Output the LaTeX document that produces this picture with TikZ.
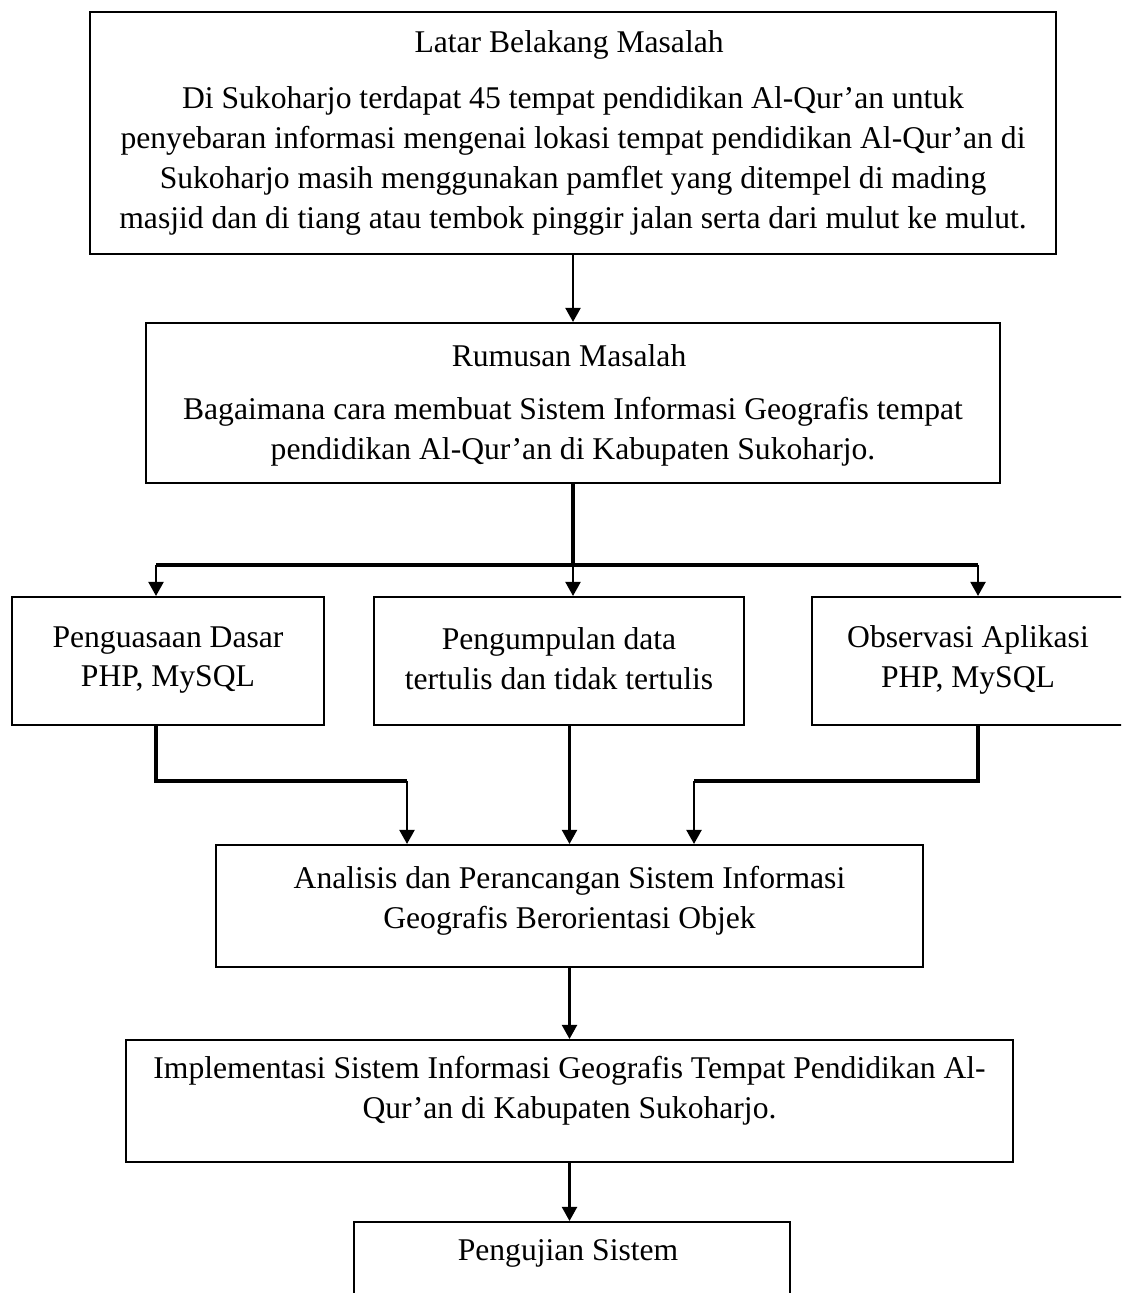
\documentclass[tikz,border=0pt]{standalone}
\usepackage{fontspec}
\setmainfont{Liberation Serif}
\usepackage{tikz}
\usetikzlibrary{arrows.meta}

\tikzset{
    kotak/.style={
        draw=black,
        line width=1.2pt,
        inner sep=0pt
    },
    teks/.style={
        align=center,
        inner sep=0pt,
        font=\fontsize{18}{22.7}\selectfont
    },
    garis/.style={
        draw=black,
        line width=1.8pt
    },
    panah/.style={
        draw=black,
        line width=1.2pt,
        -{Triangle[length=0.28cm,width=0.3cm]}
    }
}

\begin{document}
\begin{tikzpicture}[x=0.02cm, y=-0.02cm]

        \useasboundingbox (0,0) rectangle (1121,1293);
        \clip (0,0) rectangle (1121,1293);

        % =====================================================
        % LATAR BELAKANG
        % =====================================================

        \node[
            kotak,
            minimum width=19.32cm,
            minimum height=4.84cm
        ] (latar) at (573,133) {};

        \node[teks] (latarjudul) at (573,45) {
            Latar Belakang Masalah
        };

        \node[teks] (latarisi) at (573,161) {
            Di Sukoharjo terdapat 45 tempat pendidikan Al-Qur’an untuk\\
            penyebaran informasi mengenai lokasi tempat pendidikan Al-Qur’an di\\
            Sukoharjo masih menggunakan pamflet yang ditempel di mading\\
            masjid dan di tiang atau tembok pinggir jalan serta dari mulut ke mulut.
        };

        % =====================================================
        % RUMUSAN MASALAH
        % =====================================================

        \node[
            kotak,
            minimum width=17.1cm,
            minimum height=3.2cm
        ] (rumusan) at (573,403) {};

        \node[teks] (rumusanjudul) at (573,356) {
            Rumusan Masalah
        };

        \node[teks] (rumusanisi) at (573,432) {
            Bagaimana cara membuat Sistem Informasi Geografis tempat\\
            pendidikan Al-Qur’an di Kabupaten Sukoharjo.
        };

        % =====================================================
        % BARIS TIGA KOTAK
        % =====================================================

        % Penguasaan Dasar
        \node[
            kotak,
            minimum width=6.24cm,
            minimum height=2.56cm
        ] (dasar) at (168,661) {};

        \node[teks] (dasarteks) at (168,660) {
            Penguasaan Dasar\\
            PHP, MySQL
        };

        % Pengumpulan data
        \node[
            kotak,
            minimum width=7.4cm,
            minimum height=2.56cm
        ] (data) at (559,661) {};

        \node[teks] (datateks) at (559,659) {
            Pengumpulan data\\
            tertulis dan tidak tertulis
        };

        % Observasi Aplikasi
        \node[
            kotak,
            minimum width=6.24cm,
            minimum height=2.56cm
        ] (observasi) at (968,661) {};

        \node[teks] (observasiteks) at (968,660) {
            Observasi Aplikasi\\
            PHP, MySQL
        };

        % =====================================================
        % ANALISIS, IMPLEMENTASI, PENGUJIAN
        % =====================================================

        \node[
            kotak,
            minimum width=14.14cm,
            minimum height=2.44cm
        ] (analisis) at (569.5,906) {};

        \node[teks] (analisisteks) at (569.5,901) {
            Analisis dan Perancangan Sistem Informasi\\
            Geografis Berorientasi Objek
        };

        \node[
            kotak,
            minimum width=17.74cm,
            minimum height=2.44cm
        ] (implementasi) at (569.5,1101) {};

        \node[teks] (implementasiteks) at (569.5,1091) {
            Implementasi Sistem Informasi Geografis Tempat Pendidikan Al-\\
            Qur’an di Kabupaten Sukoharjo.
        };

        \node[
            kotak,
            minimum width=8.72cm,
            minimum height=2.44cm
        ] (pengujian) at (572,1283) {};

        \node[teks] (pengujianteks) at (572,1253) {
            Pengujian Sistem
        };

        % =====================================================
        % PANAH
        % =====================================================

        \coordinate (cabang) at (573,565);
        \coordinate (kiri) at (156,565);
        \coordinate (kanan) at (978,565);
        \coordinate (gabungkiri) at (407,781);
        \coordinate (gabungkanan) at (694,781);

        \draw[panah] (latar.south) -- (latar.south |- rumusan.north);

        \draw[garis] (rumusan.south) -- (cabang);
        \draw[garis] (kiri) -- (kanan);
        \draw[panah] (kiri) -- (kiri |- dasar.north);
        \draw[panah] (cabang) -- (cabang |- data.north);
        \draw[panah] (kanan) -- (kanan |- observasi.north);

        \draw[garis] (kiri |- dasar.south) |- (gabungkiri);
        \draw[panah] (gabungkiri) -- (gabungkiri |- analisis.north);
        \draw[panah] (analisis.north |- data.south) -- (analisis.north);
        \draw[garis] (kanan |- observasi.south) |- (gabungkanan);
        \draw[panah] (gabungkanan) -- (gabungkanan |- analisis.north);

        \draw[panah] (analisis.south) -- (implementasi.north);
        \draw[panah] (implementasi.south) -- (implementasi.south |- pengujian.north);

\end{tikzpicture}
\end{document}
